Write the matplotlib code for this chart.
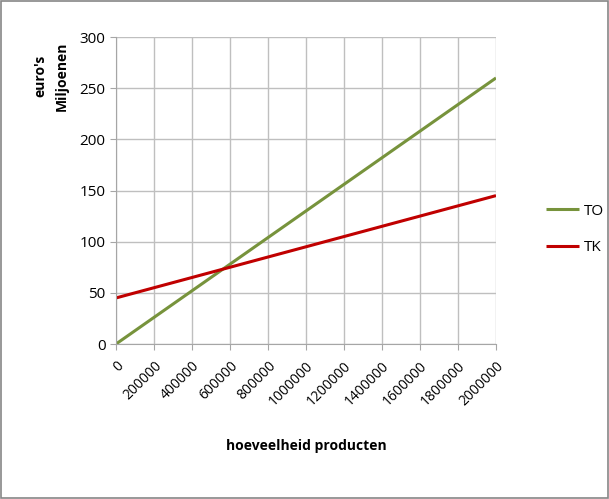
import matplotlib
matplotlib.use("Agg")
import matplotlib.pyplot as plt
from matplotlib.patches import Rectangle

x_vals = [0, 200000, 400000, 600000, 800000, 1000000, 1200000, 1400000, 1600000, 1800000, 2000000]
to_vals = [0, 26, 52, 78, 104, 130, 156, 182, 208, 234, 260]
tk_vals = [45, 55, 65, 75, 85, 95, 105, 115, 125, 135, 145]
x_labels = [str(v) for v in x_vals]
y_ticks = [0, 50, 100, 150, 200, 250, 300]

plt.rcParams['font.family'] = ['Open Sans', 'DejaVu Sans']

fig = plt.figure(figsize=(6.09, 4.99), dpi=100)
ax = fig.add_axes([116/609, 1-344/499, (496-116)/609, (344-37)/499])

ax.plot(x_vals, to_vals, color='#77933C', lw=2.2, label='TO', solid_capstyle='butt')
ax.plot(x_vals, tk_vals, color='#C00000', lw=2.2, label='TK', solid_capstyle='butt')

ax.set_xlim(0, 2000000)
ax.set_ylim(0, 300)
ax.set_xticks(x_vals)
ax.set_xticklabels(x_labels, rotation=45, ha='right', rotation_mode='anchor', fontsize=10)
ax.set_yticks(y_ticks)
ax.set_yticklabels([str(v) for v in y_ticks], fontsize=11)
ax.grid(True, color='#BFBFBF', lw=1)
ax.set_axisbelow(True)
for s in ['top', 'right']:
    ax.spines[s].set_visible(False)
for s in ['left', 'bottom']:
    ax.spines[s].set_color('#A6A6A6')
ax.tick_params(axis='both', color='#A6A6A6', length=4.5, pad=3)
ax.tick_params(axis='x', pad=6)

ax.set_xlabel('hoeveelheid producten', fontsize=10, fontweight='bold', labelpad=22)
fig.text(40/609, 1-76/499, "euro's", rotation=90, fontsize=10, fontweight='bold',
         ha='center', va='center')
fig.text(62/609, 1-76/499, "Miljoenen", rotation=90, fontsize=10, fontweight='bold',
         ha='center', va='center')

leg = ax.legend(loc='center left', bbox_to_anchor=(1.095, 0.373), frameon=False, fontsize=11,
                handlelength=2.2, labelspacing=1.4, handletextpad=0.3)

fig.patches.append(Rectangle((0.002, 0.002), 0.996, 0.996, transform=fig.transFigure,
                             fill=False, edgecolor='#868686', lw=1.2))

fig.savefig('out.png', dpi=100)
